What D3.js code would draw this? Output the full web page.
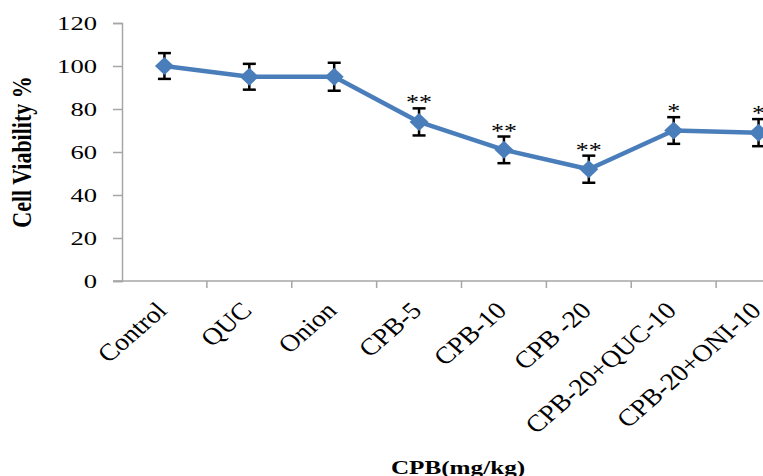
<!DOCTYPE html>
<html>
<head>
<meta charset="utf-8">
<script src="https://d3js.org/d3.v7.min.js"></script>
<style>
  body { margin: 0; background: #fff; overflow: hidden; }
  svg { display: block; }
  text { font-family: "Liberation Serif", "Times New Roman", serif; fill: #000; }
</style>
</head>
<body>
<svg id="chart" width="763" height="476"></svg>
<script>
const categories = ['Control', 'QUC', 'Onion', 'CPB-5', 'CPB-10', 'CPB -20', 'CPB-20+QUC-10', 'CPB-20+ONI-10'];
const viability = [100, 95, 95, 74, 61, 52, 70, 69];
const errors = [6, 6, 6.5, 6.3, 6.2, 6.3, 6.2, 6.3];
const stars = ['', '', '', '**', '**', '**', '*', '*'];
const yTicks = [0, 20, 40, 60, 80, 100, 120];

const svg = d3.select('#chart');

// the source picture is stretched sideways, so text gets the same stretch
const stretch = 1.4;

// plot area runs past the right edge, like the source image
const x = d3.scaleBand().domain(categories).range([122, 801]).paddingInner(0).paddingOuter(0);
const y = d3.scaleLinear().domain([0, 120]).range([281, 23]);
const cx = d => x(d) + x.bandwidth() / 2;

const axisColor = '#a6a6a6';
const blue = '#4a7ebb';

// y axis
const yAxis = svg.append('g').attr('transform', 'translate(122,0)')
  .call(d3.axisLeft(y).tickValues(yTicks).tickSize(9).tickFormat(''));
yAxis.select('.domain').attr('stroke', axisColor).attr('stroke-width', 1.5);
yAxis.selectAll('.tick line').attr('stroke', axisColor).attr('stroke-width', 1.5);

svg.append('g').selectAll('text')
  .data(yTicks)
  .join('text')
  .attr('text-anchor', 'end')
  .attr('font-size', 19)
  .attr('transform', d => `translate(97,${y(d) + 7}) scale(${stretch},1)`)
  .text(d => d);

// x axis
const xAxis = svg.append('g').attr('transform', 'translate(0,281)')
  .call(d3.axisBottom(x).tickSize(0).tickFormat(''));
xAxis.select('.domain').attr('stroke', axisColor).attr('stroke-width', 1.5)
  .attr('d', 'M113,0H801');
xAxis.selectAll('.tick').remove();
svg.append('g').selectAll('line')
  .data(categories)
  .join('line')
  .attr('x1', d => x(d) + x.bandwidth()).attr('x2', d => x(d) + x.bandwidth())
  .attr('y1', 281).attr('y2', 288)
  .attr('stroke', axisColor).attr('stroke-width', 1.5);

svg.append('g').selectAll('text')
  .data(categories)
  .join('text')
  .attr('text-anchor', 'end')
  .attr('font-size', 24)
  .attr('transform', d => `translate(${cx(d) + 4},312) scale(1.15,1) rotate(-45)`)
  .text(d => d);

// axis titles
svg.append('text')
  .attr('text-anchor', 'middle')
  .attr('font-size', 22)
  .attr('font-weight', 'bold')
  .attr('transform', 'translate(31,152) scale(1.2,1) rotate(-90)')
  .text('Cell Viability %');

svg.append('text')
  .attr('text-anchor', 'middle')
  .attr('font-size', 18)
  .attr('font-weight', 'bold')
  .attr('transform', `translate(458,474) scale(${stretch},1)`)
  .text('CPB(mg/kg)');

// error bars
const eb = svg.append('g').attr('stroke', '#000').attr('stroke-width', 2.5);
categories.forEach((c, i) => {
  const top = y(viability[i] + errors[i]), bot = y(viability[i] - errors[i]);
  eb.append('line').attr('x1', cx(c)).attr('x2', cx(c)).attr('y1', top).attr('y2', bot);
  eb.append('line').attr('x1', cx(c) - 6.5).attr('x2', cx(c) + 6.5).attr('y1', top).attr('y2', top);
  eb.append('line').attr('x1', cx(c) - 6.5).attr('x2', cx(c) + 6.5).attr('y1', bot).attr('y2', bot);
});

// line
const line = d3.line().x((d, i) => cx(categories[i])).y(d => y(d));
svg.append('path')
  .datum(viability)
  .attr('fill', 'none')
  .attr('stroke', blue)
  .attr('stroke-width', 4.5)
  .attr('stroke-linejoin', 'round')
  .attr('d', line);

// diamond markers
svg.append('g').selectAll('path')
  .data(viability)
  .join('path')
  .attr('fill', blue)
  .attr('d', (d, i) => {
    const px = cx(categories[i]), py = y(d);
    return `M${px},${py - 9}L${px + 9.5},${py}L${px},${py + 9}L${px - 9.5},${py}Z`;
  });

// significance stars
svg.append('g').selectAll('text')
  .data(stars)
  .join('text')
  .attr('text-anchor', 'middle')
  .attr('font-size', 20)
  .attr('transform', (d, i) => `translate(${cx(categories[i])},${y(viability[i] + errors[i]) + 1}) scale(1.3,1)`)
  .text(d => d);
</script>
</body>
</html>
